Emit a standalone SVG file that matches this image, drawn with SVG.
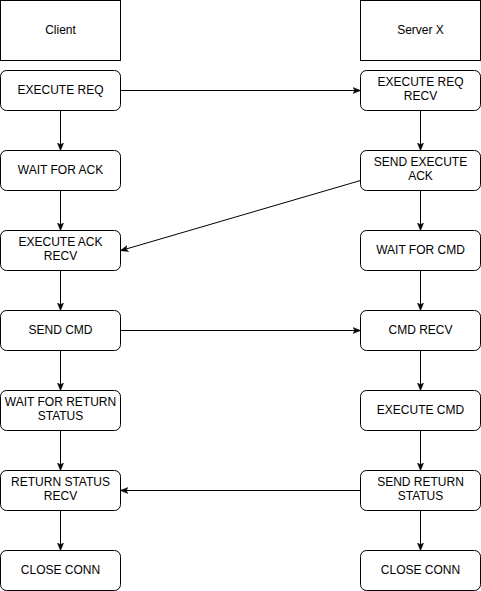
<svg xmlns="http://www.w3.org/2000/svg" width="481" height="591" viewBox="0 0 481 591">
<defs>
<style>
.box{fill:#fff;stroke:#000;stroke-width:1}
.t{font-family:"Liberation Sans",Arial,sans-serif;font-size:12px;fill:#000;text-anchor:middle}
.c{stroke:#000;stroke-width:1;fill:none;marker-end:url(#ah)}
</style>
<marker id="ah" viewBox="0 0 10 10" refX="9" refY="5" markerWidth="8" markerHeight="8" markerUnits="userSpaceOnUse" orient="auto">
<path d="M0,1 L10,5 L0,9 L2.5,5 z" fill="#000" stroke="#000" stroke-width="0.5"/>
</marker>
</defs>
<rect width="481" height="591" fill="#fff"/>
<g id="connectors">
<path class="c" d="M60.5,110.5 V150"/>
<path class="c" d="M60.5,190.5 V230"/>
<path class="c" d="M60.5,270.5 V310"/>
<path class="c" d="M60.5,350.5 V390"/>
<path class="c" d="M60.5,430.5 V470"/>
<path class="c" d="M60.5,510.5 V550"/>
<path class="c" d="M420.5,110.5 V150"/>
<path class="c" d="M420.5,190.5 V230"/>
<path class="c" d="M420.5,270.5 V310"/>
<path class="c" d="M420.5,350.5 V390"/>
<path class="c" d="M420.5,430.5 V470"/>
<path class="c" d="M420.5,510.5 V550"/>
<path class="c" d="M120.5,90.5 H360"/>
<path class="c" d="M360.5,180.5 L121,250.5"/>
<path class="c" d="M120.5,330.5 H360"/>
<path class="c" d="M360.5,490.5 H121"/>
</g>
<g id="client"><rect class="box" x="0.5" y="0.5" width="120" height="60"/><text class="t" x="60.5" y="33.5">Client</text></g>
<g id="server"><rect class="box" x="360.5" y="0.5" width="120" height="60"/><text class="t" x="420.5" y="33.5">Server X</text></g>
<g id="execute-req"><rect class="box" x="0.5" y="70.5" width="120" height="40" rx="6"/><text class="t" x="60.5" y="93.5">EXECUTE REQ</text></g>
<g id="wait-ack"><rect class="box" x="0.5" y="150.5" width="120" height="40" rx="6"/><text class="t" x="60.5" y="173.5">WAIT FOR ACK</text></g>
<g id="execute-ack-recv"><rect class="box" x="0.5" y="230.5" width="120" height="40" rx="6"/><text class="t" x="60.5" y="246">EXECUTE ACK</text><text class="t" x="60.5" y="259.5">RECV</text></g>
<g id="send-cmd"><rect class="box" x="0.5" y="310.5" width="120" height="40" rx="6"/><text class="t" x="60.5" y="333.5">SEND CMD</text></g>
<g id="wait-return"><rect class="box" x="0.5" y="390.5" width="120" height="40" rx="6"/><text class="t" x="60.5" y="406">WAIT FOR RETURN</text><text class="t" x="60.5" y="419.5">STATUS</text></g>
<g id="return-status-recv"><rect class="box" x="0.5" y="470.5" width="120" height="40" rx="6"/><text class="t" x="60.5" y="486">RETURN STATUS</text><text class="t" x="60.5" y="499.5">RECV</text></g>
<g id="close-client"><rect class="box" x="0.5" y="550.5" width="120" height="40" rx="6"/><text class="t" x="60.5" y="573.5">CLOSE CONN</text></g>
<g id="execute-req-recv"><rect class="box" x="360.5" y="70.5" width="120" height="40" rx="6"/><text class="t" x="420.5" y="86">EXECUTE REQ</text><text class="t" x="420.5" y="99.5">RECV</text></g>
<g id="send-execute-ack"><rect class="box" x="360.5" y="150.5" width="120" height="40" rx="6"/><text class="t" x="420.5" y="166">SEND EXECUTE</text><text class="t" x="420.5" y="179.5">ACK</text></g>
<g id="wait-cmd"><rect class="box" x="360.5" y="230.5" width="120" height="40" rx="6"/><text class="t" x="420.5" y="253.5">WAIT FOR CMD</text></g>
<g id="cmd-recv"><rect class="box" x="360.5" y="310.5" width="120" height="40" rx="6"/><text class="t" x="420.5" y="333.5">CMD RECV</text></g>
<g id="execute-cmd"><rect class="box" x="360.5" y="390.5" width="120" height="40" rx="6"/><text class="t" x="420.5" y="413.5">EXECUTE CMD</text></g>
<g id="send-return-status"><rect class="box" x="360.5" y="470.5" width="120" height="40" rx="6"/><text class="t" x="420.5" y="486">SEND RETURN</text><text class="t" x="420.5" y="499.5">STATUS</text></g>
<g id="close-server"><rect class="box" x="360.5" y="550.5" width="120" height="40" rx="6"/><text class="t" x="420.5" y="573.5">CLOSE CONN</text></g>
</svg>
